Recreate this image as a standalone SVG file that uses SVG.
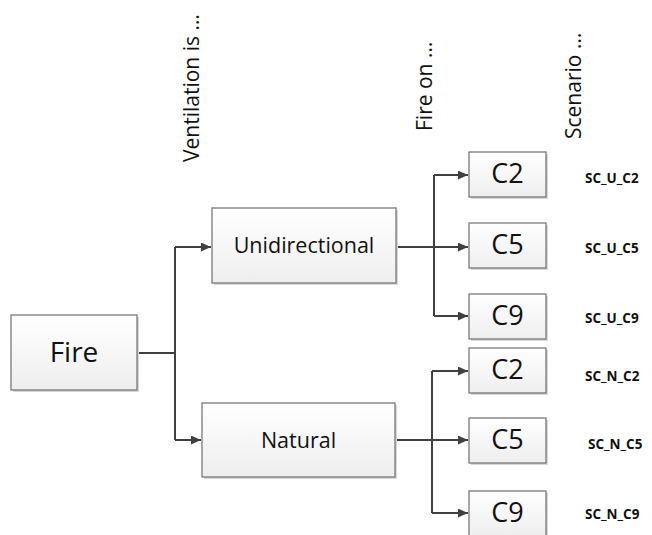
<svg xmlns="http://www.w3.org/2000/svg" width="652" height="535" viewBox="0 0 652 535">
<style>
.box{fill:url(#g);stroke:#6e6e6e;stroke-width:1.2}
.sh{fill:#d8d8d8}
.t{font-family:"Open Sans","Liberation Sans",sans-serif;fill:#111;text-anchor:middle}
.sc{font-family:"Open Sans","Liberation Sans",sans-serif;font-weight:bold;font-size:13.5px;fill:#111}
.hd{font-family:"Open Sans","Liberation Sans",sans-serif;font-size:21px;fill:#111}
.c{fill:none;stroke:#404040;stroke-width:2}
</style>
<defs>
<linearGradient id="g" x1="0" y1="0" x2="0" y2="1">
<stop offset="0" stop-color="#ffffff"/>
<stop offset="1" stop-color="#eeeeee"/>
</linearGradient>
<marker id="a" viewBox="0 0 10 10" refX="10" refY="5" markerWidth="5" markerHeight="4.5" orient="auto" markerUnits="strokeWidth" preserveAspectRatio="none">
<path d="M0,0 L10,5 L0,10 z" fill="#404040"/>
</marker>
</defs>
<g id="headers">
<text class="hd" transform="translate(199,162) rotate(-90)">Ventilation is …</text>
<text class="hd" transform="translate(432,131) rotate(-90)">Fire on …</text>
<text class="hd" transform="translate(581,139) rotate(-90)">Scenario …</text>
</g>
<g id="connectors">
<path class="c" d="M137,353 H175"/>
<path class="c" d="M175,247 V440"/>
<path class="c" d="M175,247 H211" marker-end="url(#a)"/>
<path class="c" d="M175,440 H201" marker-end="url(#a)"/>
<path class="c" d="M396,247 H434"/>
<path class="c" d="M434,175 V316"/>
<path class="c" d="M434,175 H468" marker-end="url(#a)"/>
<path class="c" d="M434,247 H468" marker-end="url(#a)"/>
<path class="c" d="M434,316 H468" marker-end="url(#a)"/>
<path class="c" d="M395,440 H432"/>
<path class="c" d="M432,371 V513"/>
<path class="c" d="M432,371 H468" marker-end="url(#a)"/>
<path class="c" d="M432,440 H468" marker-end="url(#a)"/>
<path class="c" d="M432,513 H468" marker-end="url(#a)"/>
</g>
<g id="fire">
<rect class="sh" x="13" y="317" width="126" height="75"/>
<rect class="box" x="11" y="315" width="126" height="75"/>
<text class="t" x="74" y="362" font-size="28">Fire</text>
</g>
<g id="unidirectional">
<rect class="sh" x="214" y="210" width="184" height="75"/>
<rect class="box" x="212" y="208" width="184" height="75"/>
<text class="t" x="304" y="253" font-size="21.5">Unidirectional</text>
</g>
<g id="natural">
<rect class="sh" x="204" y="405" width="193" height="74"/>
<rect class="box" x="202" y="403" width="193" height="74"/>
<text class="t" x="298.5" y="448" font-size="21.5">Natural</text>
</g>
<g id="u_c2">
<rect class="sh" x="471" y="154" width="77" height="45"/>
<rect class="box" x="469" y="152" width="77" height="45"/>
<text class="t" x="507.5" y="183" font-size="27">C2</text>
</g>
<g id="u_c5">
<rect class="sh" x="471" y="225" width="77" height="45"/>
<rect class="box" x="469" y="223" width="77" height="45"/>
<text class="t" x="507.5" y="254" font-size="27">C5</text>
</g>
<g id="u_c9">
<rect class="sh" x="471" y="296" width="77" height="45"/>
<rect class="box" x="469" y="294" width="77" height="45"/>
<text class="t" x="507.5" y="325" font-size="27">C9</text>
</g>
<g id="n_c2">
<rect class="sh" x="471" y="350" width="77" height="45"/>
<rect class="box" x="469" y="348" width="77" height="45"/>
<text class="t" x="507.5" y="379" font-size="27">C2</text>
</g>
<g id="n_c5">
<rect class="sh" x="471" y="420" width="77" height="45"/>
<rect class="box" x="469" y="418" width="77" height="45"/>
<text class="t" x="507.5" y="449" font-size="27">C5</text>
</g>
<g id="n_c9">
<rect class="sh" x="471" y="493" width="77" height="45"/>
<rect class="box" x="469" y="491" width="77" height="45"/>
<text class="t" x="507.5" y="522" font-size="27">C9</text>
</g>
<g id="scenarios">
<text class="sc" x="585" y="183">SC_U_C2</text>
<text class="sc" x="585" y="253">SC_U_C5</text>
<text class="sc" x="585" y="323">SC_U_C9</text>
<text class="sc" x="585" y="381">SC_N_C2</text>
<text class="sc" x="588" y="449">SC_N_C5</text>
<text class="sc" x="585" y="519">SC_N_C9</text>
</g>
</svg>
